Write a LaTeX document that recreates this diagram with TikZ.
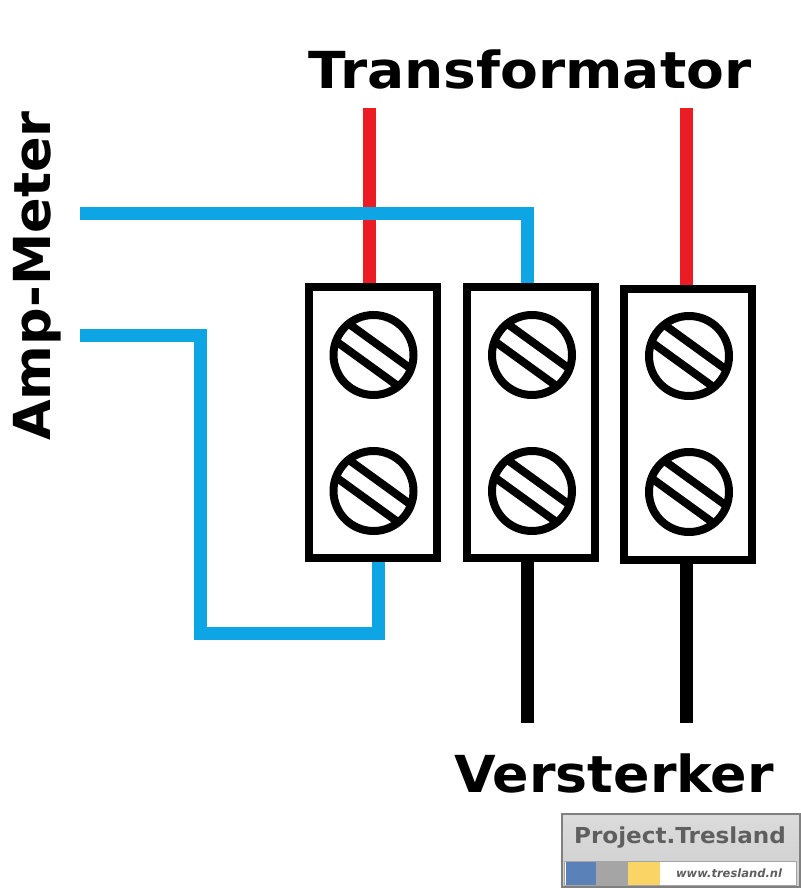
\documentclass[tikz,border=0pt]{standalone}
\usepackage{fontspec}
\setmainfont{DejaVu Sans}
\definecolor{wblue}{RGB}{14,165,228}
\definecolor{wred}{RGB}{236,28,36}
\definecolor{lblue}{RGB}{90,130,185}
\definecolor{lgray}{RGB}{165,165,165}
\definecolor{lyellow}{RGB}{250,212,100}
\definecolor{ltext}{RGB}{95,95,95}
\tikzset{
  x=1pt,y=-1pt,
  terminal/.style={draw=black,line width=8pt,fill=white,minimum width=128pt,minimum height=271pt,inner sep=0pt,outer sep=0pt},
  screwhead/.style={draw=black,line width=8pt,fill=white,circle,minimum size=80pt,inner sep=0pt,outer sep=0pt},
  wire/.style={line width=13pt,line cap=butt,line join=miter},
  label/.style={font=\bfseries\fontsize{51}{51}\selectfont,text=black,inner sep=0pt,draw=none},
}
\newcommand{\slotlines}[1]{%
  \draw[line width=8pt] ([shift={(-23,-30)}]#1.center) -- ([shift={(35,12)}]#1.center);
  \draw[line width=8pt] ([shift={(-35,-12)}]#1.center) -- ([shift={(23,30)}]#1.center);
}
\begin{document}
\begin{tikzpicture}
\useasboundingbox (0,0) rectangle (800,888);
\fill[white] (0,0) rectangle (800,888);
% named free ends
\coordinate (redA) at (369,108);
\coordinate (redAend) at (369,290);
\coordinate (redB) at (686,108);
\coordinate (redBend) at (686,290);
\coordinate (ampTop) at (80,213);
\coordinate (ampTopC) at (527,213);
\coordinate (ampTopEnd) at (527,290);
\coordinate (ampLow) at (80,335);
\coordinate (ampLowA) at (200,335);
\coordinate (ampLowB) at (200,633);
\coordinate (ampLowC) at (378,633);
\coordinate (ampLowEnd) at (378,555);
\coordinate (blkA) at (527,723);
\coordinate (blkAend) at (527,555);
\coordinate (blkB) at (686,723);
\coordinate (blkBend) at (686,555);
% wires
\draw[wire,wred] (redA) -- (redAend);
\draw[wire,wred] (redB) -- (redBend);
\draw[wire,wblue] (ampTop) -- (ampTopC) -- (ampTopEnd);
\draw[wire,wblue] (ampLow) -- (ampLowA) -- (ampLowB) -- (ampLowC) -- (ampLowEnd);
\draw[wire,black] (blkA) -- (blkAend);
\draw[wire,black] (blkB) -- (blkBend);
% terminals
\node[terminal] (t1) at (373,422.5) {};
\node[terminal] (t2) at (530.5,422.5) {};
\node[terminal] (t3) at (687.5,424) {};
\node[screwhead] (s1a) at (373.5,355) {};
\node[screwhead] (s1b) at (373.5,491) {};
\node[screwhead] (s2a) at (532,355) {};
\node[screwhead] (s2b) at (532,491) {};
\node[screwhead] (s3a) at (689,356) {};
\node[screwhead] (s3b) at (689,492) {};
\slotlines{s1a}\slotlines{s1b}\slotlines{s2a}\slotlines{s2b}\slotlines{s3a}\slotlines{s3b}
% labels
\node[label,anchor=center,xscale=1.08] (ltrans) at (530,69) {Transformator};
\node[label,anchor=center,xscale=1.055] (lverst) at (614,773) {Versterker};
\node[label,anchor=center,rotate=90,xscale=1.03] (lamp) at (37,276) {Amp-Meter};
% logo
\node[draw=gray,line width=2pt,top color=white!72!gray,bottom color=white!62!gray,minimum width=238pt,minimum height=73pt,inner sep=0pt,outer sep=0pt] (logo) at (680.5,850) {};
\node[fill=white,draw=lgray,line width=1pt,minimum width=232pt,minimum height=24pt,inner sep=0pt] (strip) at (680.5,873.5) {};
\fill[lblue] (566,862) rectangle (596,885);
\fill[lgray] (596,862) rectangle (628,885);
\fill[lyellow] (628,862) rectangle (660,885);
\node[font=\bfseries\fontsize{22}{22}\selectfont,text=ltext,inner sep=0pt,xscale=1.05] (ltitle) at (680,838) {Project.Tresland};
\node[font=\itshape\bfseries\fontsize{11.5}{11.5}\selectfont,text=ltext,inner sep=0pt] (lurl) at (729,873) {www.tresland.nl};
\end{tikzpicture}
\end{document}
